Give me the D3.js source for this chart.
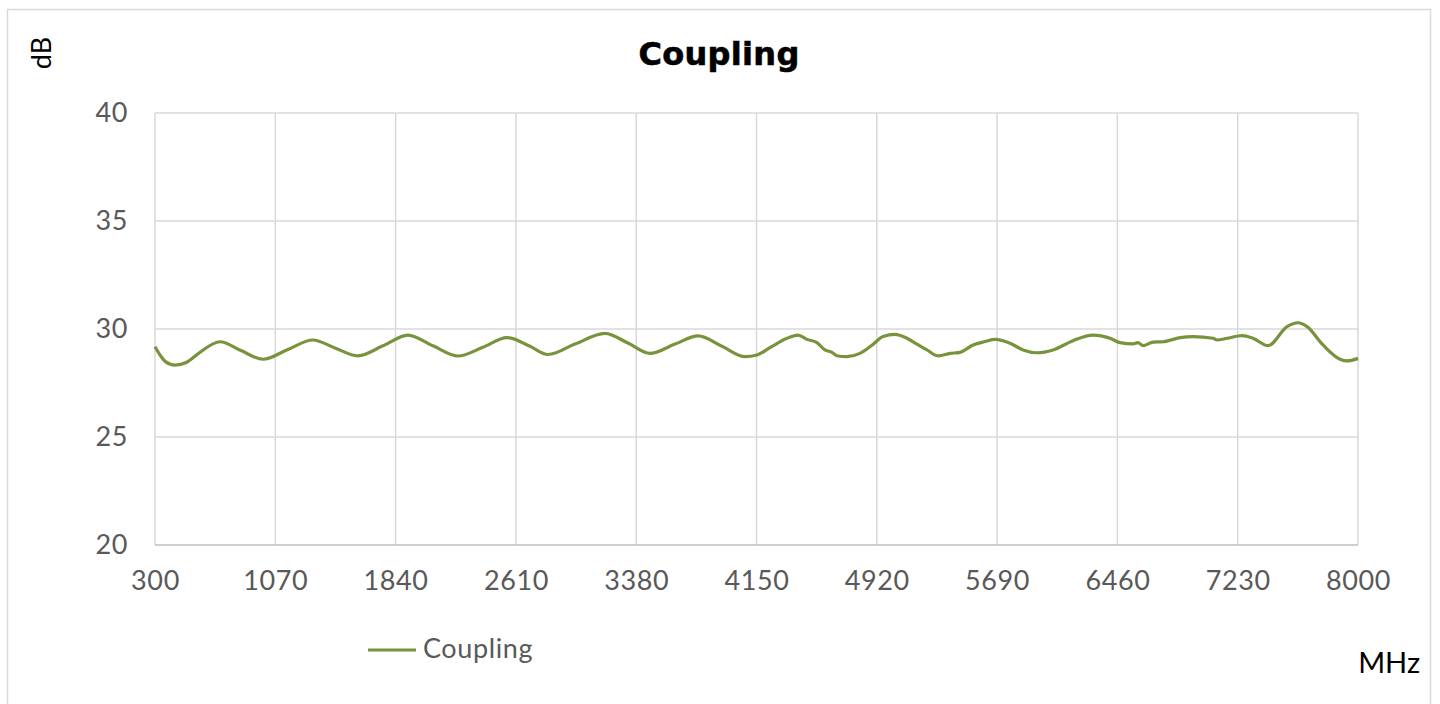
<!DOCTYPE html>
<html><head><meta charset="utf-8">
<script src="https://cdn.jsdelivr.net/npm/d3@7"></script>
<style>html,body{margin:0;padding:0;background:#fff;}svg{display:block;}</style>
</head><body>
<svg id="c" width="1440" height="704"></svg>
<script>
const title = "Coupling";
const seriesName = "Coupling";
const yLabel = "dB";
const xLabel = "MHz";
const xTicks = [300,1070,1840,2610,3380,4150,4920,5690,6460,7230,8000];
const yTicks = [20,25,30,35,40];
const freq = [300,332,367,428,500,575,716,850,991,1151,1311,1452,1599,1759,1919,2079,2239,2399,2553,2700,2815,2988,3180,3327,3468,3628,3776,3929,4077,4153,4250,4345,4416,4473,4537,4588,4633,4665,4729,4812,4889,4960,5037,5113,5177,5241,5312,5389,5453,5536,5613,5677,5773,5856,5946,6048,6176,6304,6413,6477,6560,6592,6624,6688,6752,6861,6944,7072,7098,7162,7258,7328,7424,7546,7616,7674,7776,7885,7930,8000];
const coupling = [29.18,28.80,28.49,28.33,28.45,28.85,29.41,29.0,28.60,29.05,29.49,29.12,28.76,29.22,29.72,29.22,28.75,29.15,29.60,29.2,28.82,29.3,29.80,29.35,28.87,29.3,29.68,29.2,28.72,28.80,29.2,29.57,29.72,29.52,29.37,29.03,28.92,28.76,28.72,28.87,29.25,29.65,29.75,29.57,29.3,29.03,28.76,28.87,28.92,29.26,29.42,29.52,29.34,29.03,28.90,29.03,29.46,29.72,29.57,29.37,29.31,29.37,29.23,29.39,29.41,29.60,29.65,29.57,29.49,29.57,29.69,29.57,29.23,30.11,30.29,30.11,29.26,28.60,28.52,28.64];

const svg = d3.select("#c");
const font = "Lato, 'Open Sans', sans-serif";
svg.append("rect").attr("x",7.5).attr("y",9.5).attr("width",1423).attr("height",720)
  .attr("fill","#fff").attr("stroke","#d9d9d9").attr("stroke-width",1.5);

const x = d3.scaleLinear().domain([300,8000]).range([155,1358]);
const y = d3.scaleLinear().domain([20,40]).range([545,113]);

const g = svg.append("g");
g.selectAll(".vg").data(xTicks).enter().append("line")
  .attr("x1",d=>x(d)).attr("x2",d=>x(d)).attr("y1",y(40)).attr("y2",y(20))
  .attr("stroke","#d9d9d9").attr("stroke-width",1.5);
g.selectAll(".hg").data(yTicks).enter().append("line")
  .attr("x1",x(300)).attr("x2",x(8000)).attr("y1",d=>y(d)).attr("y2",d=>y(d))
  .attr("stroke",d=>d===20?"#bfbfbf":"#d9d9d9").attr("stroke-width",1.5);

const xa = d3.axisBottom(x).tickValues(xTicks).tickSize(0).tickPadding(26).tickFormat(d3.format("d"));
const xg = svg.append("g").attr("transform",`translate(0,${y(20)})`).call(xa);
xg.select(".domain").remove();
xg.selectAll("text").attr("font-family",font).attr("font-size",27).attr("letter-spacing",0.6).attr("fill","#595959");
const ya = d3.axisLeft(y).tickValues(yTicks).tickSize(0).tickPadding(27);
const yg = svg.append("g").attr("transform",`translate(${x(300)},0)`).call(ya);
yg.select(".domain").remove();
yg.selectAll("text").attr("font-family",font).attr("font-size",27).attr("letter-spacing",0.6).attr("fill","#595959");

const data = freq.map((f,i)=>({f, v:coupling[i]}));
const line = d3.line().x(d=>x(d.f)).y(d=>y(d.v)).curve(d3.curveMonotoneX);
svg.append("path").datum(data).attr("d",line).attr("fill","none")
  .attr("stroke","#77933c").attr("stroke-width",3.2).attr("stroke-linejoin","round");

svg.append("text").attr("x",719).attr("y",65).attr("text-anchor","middle")
  .attr("font-family","'DejaVu Sans', Verdana, sans-serif").attr("font-weight","bold").attr("font-size",32)
  .attr("letter-spacing",0.3).attr("stroke","#000").attr("stroke-width",0.6).attr("fill","#000").text(title);
svg.append("text").attr("transform","translate(51,53) rotate(-90)").attr("text-anchor","middle")
  .attr("font-family",font).attr("font-size",27).attr("fill","#000").text(yLabel);
svg.append("text").attr("x",1420).attr("y",673).attr("text-anchor","end")
  .attr("font-family",font).attr("font-size",29).attr("fill","#000").text(xLabel);
svg.append("line").attr("x1",368).attr("x2",416).attr("y1",650).attr("y2",650)
  .attr("stroke","#77933c").attr("stroke-width",3.2);
svg.append("text").attr("x",423).attr("y",658).attr("font-family",font).attr("font-size",27)
  .attr("letter-spacing",0.6).attr("fill","#595959").text(seriesName);
</script>
</body></html>
